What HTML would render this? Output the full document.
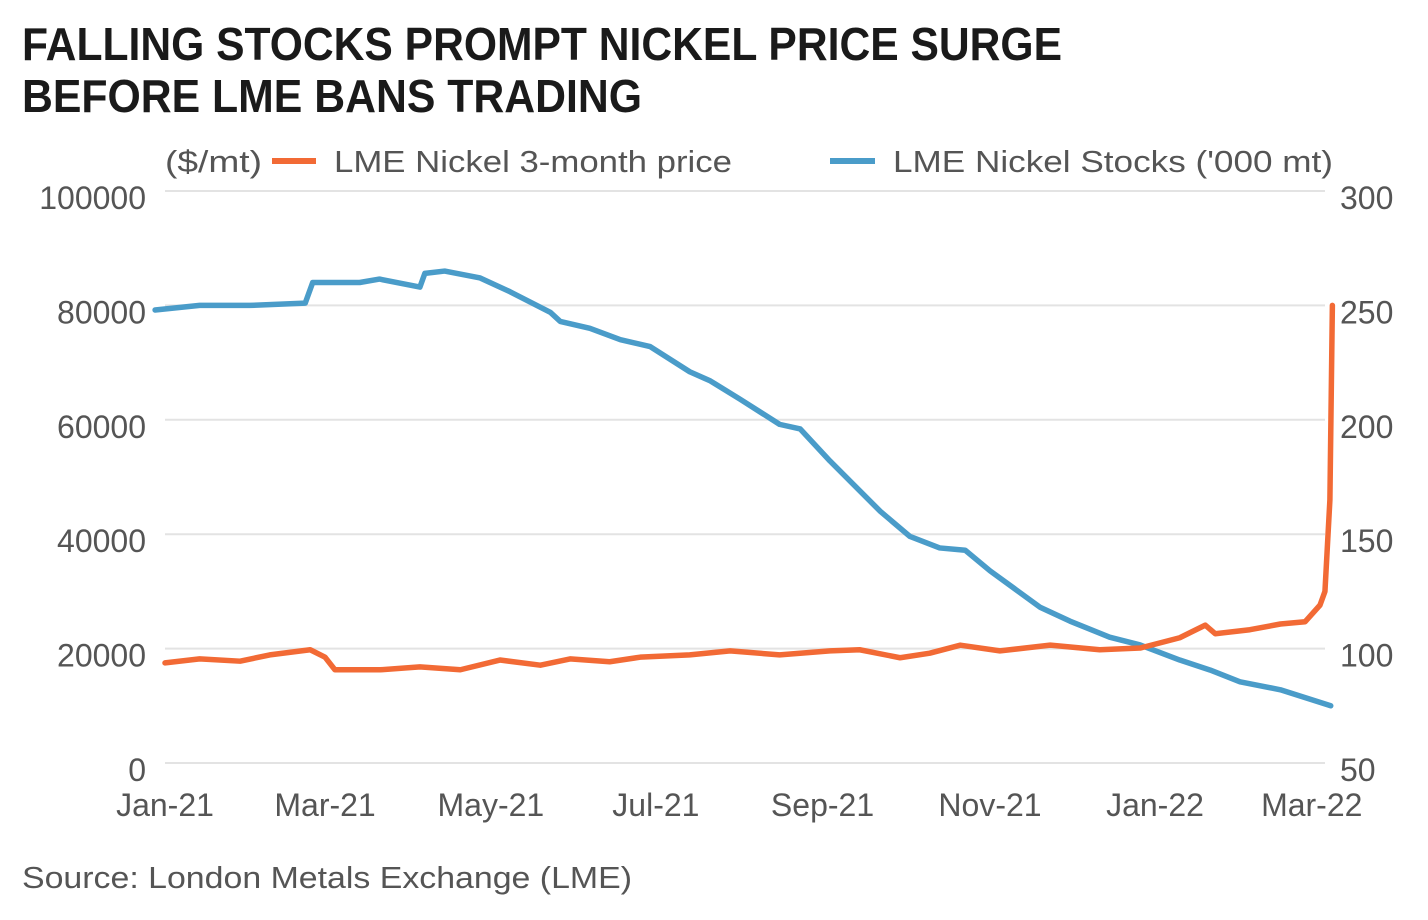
<!DOCTYPE html>
<html><head><meta charset="utf-8">
<style>
html,body{margin:0;padding:0;background:#fff;}
svg{display:block;font-family:"Liberation Sans",sans-serif;}
</style></head>
<body>
<svg id="chart" width="1428" height="920" viewBox="0 0 1428 920">
<rect width="1428" height="920" fill="#ffffff"/>
<text x="22" y="60" font-size="46" font-weight="bold" fill="#1a1a1a" textLength="1040" lengthAdjust="spacingAndGlyphs">FALLING STOCKS PROMPT NICKEL PRICE SURGE</text>
<text x="22" y="112" font-size="46" font-weight="bold" fill="#1a1a1a" textLength="620" lengthAdjust="spacingAndGlyphs">BEFORE LME BANS TRADING</text>
<text x="165" y="172" font-size="31" fill="#555" textLength="97" lengthAdjust="spacingAndGlyphs">($/mt)</text>
<line x1="272" y1="161" x2="316" y2="161" stroke="#f26a35" stroke-width="6"/>
<text x="334" y="172" font-size="31" fill="#555" textLength="398" lengthAdjust="spacingAndGlyphs">LME Nickel 3-month price</text>
<line x1="830" y1="161" x2="875" y2="161" stroke="#4a9cc9" stroke-width="6"/>
<text x="893" y="172" font-size="31" fill="#555" textLength="440" lengthAdjust="spacingAndGlyphs">LME Nickel Stocks ('000 mt)</text>
<g id="grid"></g>
<g id="series"></g>
<text x="22" y="888" font-size="31" fill="#555" textLength="610" lengthAdjust="spacingAndGlyphs">Source: London Metals Exchange (LME)</text>
</svg>
<script>
const leftTicks=[0,20000,40000,60000,80000,100000];
const rightTicks=[50,100,150,200,250,300];
const monthLabels=["Jan-21","Mar-21","May-21","Jul-21","Sep-21","Nov-21","Jan-22","Mar-22"];
const monthIdx=[0,1.94,3.95,5.95,7.97,10.0,12.0,13.9];
// months since Jan-21
const stockMonths=[-0.12,0.42,1.03,1.7,1.79,2.36,2.6,3.09,3.15,3.39,3.82,4.18,4.67,4.79,5.15,5.52,5.88,6.36,6.61,6.97,7.45,7.7,8.06,8.42,8.67,9.03,9.39,9.7,10.0,10.61,10.97,11.45,11.82,12.3,12.67,13.03,13.52,14.13];
const stockVals=[248,250,250,251,260,260,261.5,258,264,265,262,256,247,243,240,235,232,221,217,209,198,196,182,169,160,149,144,143,134,118,112,105,101.6,95,90.6,85.5,82,75];
const priceMonths=[0,0.42,0.91,1.27,1.76,1.94,2.06,2.61,3.09,3.58,4.06,4.55,4.91,5.39,5.76,6.36,6.85,7.45,8.06,8.42,8.91,9.27,9.64,10.12,10.73,11.33,11.82,12.3,12.61,12.73,13.15,13.52,13.82,14.0,14.06,14.12,14.15];
const priceVals=[17500,18200,17800,18900,19800,18500,16300,16300,16800,16300,18000,17100,18200,17700,18500,18900,19600,18900,19600,19800,18400,19200,20600,19600,20600,19800,20100,21900,24100,22600,23300,24300,24700,27600,30000,46000,80000];

const NS="http://www.w3.org/2000/svg";
const X0=165,MW=82.5,YT=191,YB=763;
const xS=m=>X0+m*MW;
const yL=v=>YB-(v/100000)*(YB-YT);
const yR=v=>YB-((v-50)/250)*(YB-YT);
const grid=document.getElementById('grid'),ser=document.getElementById('series');
function mk(tag,attrs,parent){const e=document.createElementNS(NS,tag);for(const k in attrs)e.setAttribute(k,attrs[k]);parent.appendChild(e);return e;}
leftTicks.forEach((t,i)=>{
  const g=mk('line',{x1:165,x2:1325,y1:yL(t),y2:yL(t),stroke:'#e3e3e3','stroke-width':2},grid);
  
  
  const l=mk('text',{x:146,y:yL(t)+18,'font-size':32,fill:'#555','text-anchor':'end'},grid);
  l.textContent=t;
  
  
  const r=mk('text',{x:1340,y:yR(rightTicks[i])+18,'font-size':32,fill:'#555'},grid);
  r.textContent=rightTicks[i];
  
  
});
monthLabels.forEach((m,i)=>{
  const t=mk('text',{x:xS(monthIdx[i]),y:816,'font-size':32,fill:'#555','text-anchor':'middle'},grid);
  t.textContent=m;
  
  
});
const sp=mk('polyline',{points:stockMonths.map((m,i)=>xS(m)+','+yR(stockVals[i])).join(' '),fill:'none',stroke:'#4a9cc9','stroke-width':5.5,'stroke-linejoin':'round','stroke-linecap':'round'},ser);


const pp=mk('polyline',{points:priceMonths.map((m,i)=>xS(m)+','+yL(priceVals[i])).join(' '),fill:'none',stroke:'#f26a35','stroke-width':5.5,'stroke-linejoin':'round','stroke-linecap':'round'},ser);


</script>
</body></html>
